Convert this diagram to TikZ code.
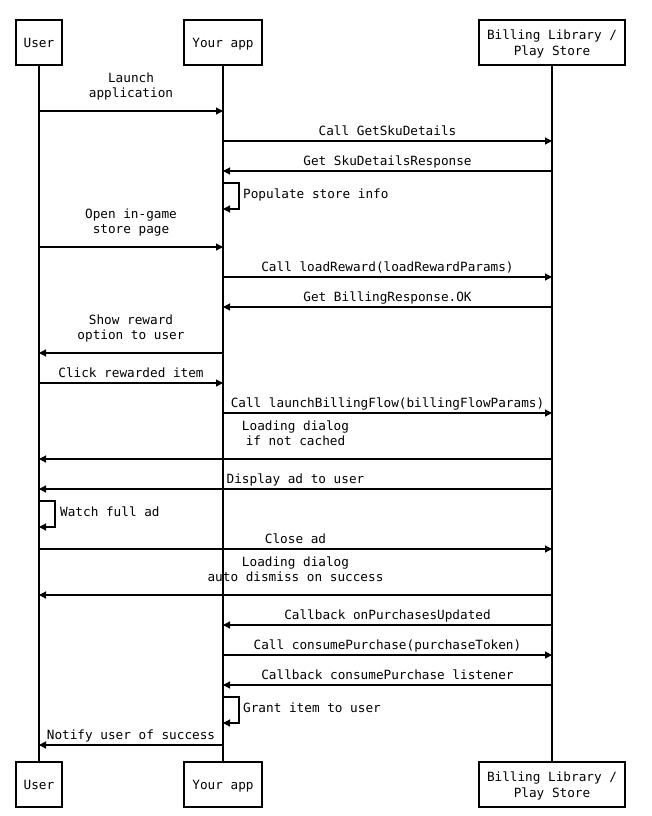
\documentclass[tikz,border=0pt]{standalone}
\usepackage{fontspec}
\setmainfont{DejaVu Sans Mono}
\usetikzlibrary{arrows.meta}
\tikzset{
  actor/.style={draw, line width=1.4pt, inner sep=0pt, align=center, minimum height=45pt, text depth=0pt},
  life/.style={line width=1.2pt},
  msg/.style={line width=1.2pt, -{Triangle[length=7pt,width=7pt]}},
  lbl/.style={inner sep=0pt, align=center, anchor=base},
}
\newcommand{\seqmsg}[4]{%
  \coordinate (#4a) at (#1,#3);
  \coordinate (#4b) at (#2,#3);
  \draw[msg] (#4a) -- (#4b);}
\newcommand{\selfmsg}[3]{%
  \coordinate (#3a) at (#1,#2);
  \coordinate (#3b) at (#1,#2+26);
  \draw[msg] (#3a) -- ++(16,0) -- ++(0,26) -- (#3b);}
\begin{document}
\begin{tikzpicture}[x=1pt,y=-1pt,font=\fontsize{12.7}{15.5}\selectfont]
\useasboundingbox (0,0) rectangle (652,816);
% actors
\node[actor, minimum width=46pt]  (ut) at (39,42.5)  {User};
\node[actor, minimum width=78pt]  (at) at (223,42.5) {Your app};
\node[actor, minimum width=146pt] (bt) at (552,42.5) {Billing Library /\\Play Store};
\node[actor, minimum width=46pt]  (ub) at (39,784.5)  {User};
\node[actor, minimum width=78pt]  (ab) at (223,784.5) {Your app};
\node[actor, minimum width=146pt] (bb) at (552,784.5) {Billing Library /\\Play Store};
% lifelines
\draw[life] (ut) -- (ub);
\draw[life] (at) -- (ab);
\draw[life] (bt) -- (bb);
% messages
\seqmsg{39}{223}{111}{m1}
\node[lbl] (l1) at (131,97.5) {Launch\\application};
\seqmsg{223}{552}{141}{m2}
\node[lbl] (l2) at (387.5,135.5) {Call GetSkuDetails};
\seqmsg{552}{223}{171}{m3}
\node[lbl] (l3) at (387.5,165.5) {Get SkuDetailsResponse};
\selfmsg{223}{183}{s1}
\node[lbl, anchor=base west] (l4) at (243,198.5) {Populate store info};
\seqmsg{39}{223}{247}{m5}
\node[lbl] (l5) at (131,233.5) {Open in-game\\store page};
\seqmsg{223}{552}{277}{m6}
\node[lbl] (l6) at (387.5,271.5) {Call loadReward(loadRewardParams)};
\seqmsg{552}{223}{307}{m7}
\node[lbl] (l7) at (387.5,301.5) {Get BillingResponse.OK};
\seqmsg{223}{39}{353}{m8}
\node[lbl] (l8) at (131,339.5) {Show reward\\option to user};
\seqmsg{39}{223}{383}{m9}
\node[lbl] (l9) at (131,377.5) {Click rewarded item};
\seqmsg{223}{552}{413}{m10}
\node[lbl] (l10) at (387.5,407.5) {Call launchBillingFlow(billingFlowParams)};
\seqmsg{552}{39}{459}{m11}
\node[lbl] (l11) at (295.5,445.5) {Loading dialog\\if not cached};
\seqmsg{552}{39}{489}{m12}
\node[lbl] (l12) at (295.5,483.5) {Display ad to user};
\selfmsg{39}{501}{s2}
\node[lbl, anchor=base west] (l13) at (60,516.5) {Watch full ad};
\seqmsg{39}{552}{549}{m14}
\node[lbl] (l14) at (295.5,543.5) {Close ad};
\seqmsg{552}{39}{595}{m15}
\node[lbl] (l15) at (295.5,581.5) {Loading dialog\\auto dismiss on success};
\seqmsg{552}{223}{625}{m16}
\node[lbl] (l16) at (387.5,619.5) {Callback onPurchasesUpdated};
\seqmsg{223}{552}{655}{m17}
\node[lbl] (l17) at (387.5,649.5) {Call consumePurchase(purchaseToken)};
\seqmsg{552}{223}{685}{m18}
\node[lbl] (l18) at (387.5,679.5) {Callback consumePurchase listener};
\selfmsg{223}{697}{s3}
\node[lbl, anchor=base west] (l19) at (243,712.5) {Grant item to user};
\seqmsg{223}{39}{745}{m20}
\node[lbl] (l20) at (131,739.5) {Notify user of success};
\end{tikzpicture}
\end{document}
